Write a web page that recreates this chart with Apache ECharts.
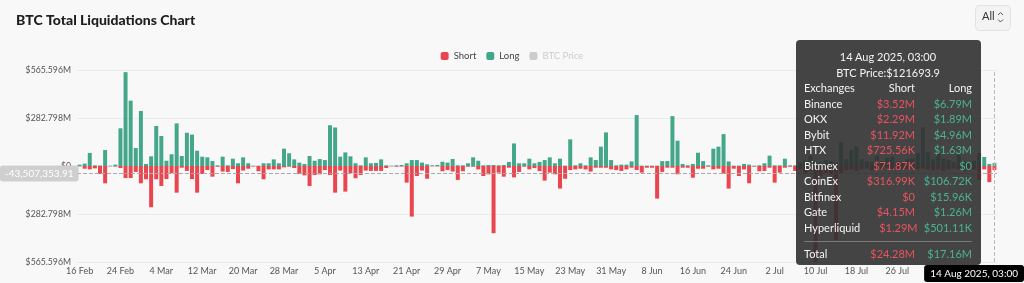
<!DOCTYPE html>
<html><head><meta charset="utf-8">
<script src="https://cdn.jsdelivr.net/npm/echarts@6/dist/echarts.min.js"></script>
<style>html,body{margin:0;padding:0;background:#f8f8f8}#chart{width:1024px;height:283px}</style>
</head><body><div id="chart"></div>
<script>
// ---- data ----
const startDay = [2025, 1, 16];   // 16 Feb 2025 (UTC, month 0-based)
const dayCount = 180;             // 16 Feb .. 14 Aug 2025
const categories = [];
for (let i = 0; i < dayCount; i++) {
  categories.push(new Date(Date.UTC(startDay[0], startDay[1], startDay[2] + i)).toISOString().slice(0, 10));
}
const monthNames = ['Jan','Feb','Mar','Apr','May','Jun','Jul','Aug','Sep','Oct','Nov','Dec'];

// liquidations in millions USD
const longM = [
8,14,77,4,3,94,2,8,222,553,
385,106,324,12,57,236,177,31,69,251,
59,196,185,90,55,51,29,4,55,4,
43,16,51,16,2,2,16,16,39,16,
102,75,39,20,12,59,31,41,35,240,
227,55,80,57,16,4,51,16,18,39,
4,2,4,6,16,35,35,20,10,4,
6,25,20,41,4,4,16,51,31,4,
6,6,4,6,24,133,16,16,43,16,
24,35,51,16,43,2,157,4,16,4,
51,35,114,198,35,4,8,8,27,300,
2,2,2,2,29,29,294,149,12,4,
12,78,29,4,102,114,188,27,2,2,
12,8,2,4,16,61,4,4,43,4,
4,20,30,60,25,20,35,30,20,140,
40,94,115,40,30,25,59,30,47,55,
30,25,40,45,77,228,82,40,77,45,
35,25,65,30,20,30,77,53,12,17.16
];
const shortM = [
2,16,20,14,47,102,2,3,12,71,
71,35,102,78,243,78,118,77,43,157,
10,29,77,157,47,24,63,4,33,35,
18,102,27,16,3,31,78,20,20,20,
8,4,12,47,55,118,53,49,24,53,
157,27,151,43,72,53,27,29,29,29,
12,2,4,3,98,298,59,27,75,2,
2,31,24,33,82,31,4,4,20,59,
49,396,39,63,10,67,35,4,20,12,
30,86,39,49,133,75,24,20,16,20,
33,10,10,10,20,24,29,20,10,24,
39,10,10,192,35,10,10,49,10,10,
69,16,16,4,20,16,45,133,16,59,
20,102,4,31,29,10,98,39,10,4,
29,20,45,30,565.596,60,43,50,436,40,
25,20,30,20,15,25,15,20,10,20,
15,20,20,15,20,15,20,25,20,30,
20,15,20,35,25,20,82,20,95,24.28
];
const btcPrice = [];   // series hidden in the reference (legend item switched off)

const yMaxM = 565.596;
const yStepM = 282.798;

// hovered point (tooltip)
const hoverIndex = 179;
const hoverTime = '03:00';
const hoverBtcPrice = 121693.9;
const pointerValueM = -43.50735391;
const hoverExchanges = ['Binance','OKX','Bybit','HTX','Bitmex','CoinEx','Bitfinex','Gate','Hyperliquid'];
const hoverShortUsd = [3520000, 2290000, 11920000, 725560, 71870, 316990, 0, 4150000, 1290000];
const hoverLongUsd  = [6790000, 1890000, 4960000, 1630000, 0, 106720, 15960, 1260000, 501110];

// ---- helpers ----
const FONT = 'Lato, "Open Sans", sans-serif';
const RED = '#e9464f', GREEN = '#45a78a';
const TT_RED = '#e9545f', TT_GREEN = '#4bb394';
function shortDate(s) { const p = s.split('-'); return (+p[2]) + ' ' + monthNames[+p[1] - 1]; }
function longDate(s) { const p = s.split('-'); return (+p[2]) + ' ' + monthNames[+p[1] - 1] + ' ' + p[0] + ', ' + hoverTime; }
function fmtUsd(v) {
  if (v === 0) return '$0';
  if (v >= 1e6) return '$' + (v / 1e6).toFixed(2) + 'M';
  if (v >= 1e3) return '$' + (v / 1e3).toFixed(2) + 'K';
  return '$' + v.toFixed(2);
}
function row(name, s, l, sc, lc) {
  return '<div style="display:flex;height:15.5px;line-height:15.5px">' +
    '<span style="flex:1">' + name + '</span>' +
    '<span style="width:60px;text-align:right;color:' + sc + '">' + s + '</span>' +
    '<span style="width:57px;text-align:right;color:' + lc + '">' + l + '</span></div>';
}

const chart = echarts.init(document.getElementById('chart'), null, { renderer: 'canvas' });
const option = {
  backgroundColor: '#f8f8f8',
  animation: false,
  textStyle: { fontFamily: FONT },
  title: {
    text: 'BTC Total Liquidations Chart', left: 11, top: 8,
    textStyle: { fontFamily: FONT, fontWeight: 900, fontSize: 14, color: '#1e1e1e' }
  },
  legend: {
    top: 46, left: 'center', itemWidth: 8, itemHeight: 8, itemGap: 10, icon: 'roundRect',
    textStyle: { fontSize: 9.5, color: '#444', fontFamily: FONT },
    inactiveColor: '#cccccc',
    data: ['Short', 'Long', 'BTC Price'],
    selected: { 'BTC Price': false }
  },
  grid: { left: 77, right: 27, top: 70, bottom: 21 },
  tooltip: {
    trigger: 'axis',
    alwaysShowContent: true,
    transitionDuration: 0,
    axisPointer: { type: 'cross', crossStyle: { color: '#aaa', width: 1, type: 'dashed' } },
    backgroundColor: 'rgba(48,48,48,0.9)',
    borderWidth: 0,
    padding: [9, 9, 3, 8],
    extraCssText: 'box-shadow:none;border-radius:4px;',
    position: function () { return [796, 40]; },
    formatter: function (params) {
      const idx = params[0].dataIndex;
      let h = '<div style="width:168px;font-family:' + FONT.replace(/"/g, "'") + ';font-size:11px;color:#f4f4f4;">';
      h += '<div style="text-align:center;line-height:15.5px">' + longDate(categories[idx]) + '</div>';
      h += '<div style="text-align:center;line-height:15.5px">BTC Price:$' + hoverBtcPrice + '</div>';
      h += row('Exchanges', 'Short', 'Long', '#f4f4f4', '#f4f4f4');
      for (let i = 0; i < hoverExchanges.length; i++) {
        h += row(hoverExchanges[i], fmtUsd(hoverShortUsd[i]), fmtUsd(hoverLongUsd[i]), TT_RED, TT_GREEN);
      }
      h += '<div style="border-top:1px solid #7a7a7a;margin:6px 0 4px 0"></div>';
      h += row('Total', fmtUsd(shortM[idx] * 1e6), fmtUsd(longM[idx] * 1e6), TT_RED, TT_GREEN);
      h += '</div>';
      return h;
    }
  },
  xAxis: {
    type: 'category',
    data: categories,
    boundaryGap: true,
    axisLine: { show: false },
    axisTick: { show: false },
    axisLabel: { interval: 7, fontSize: 9, color: '#555', margin: 5, formatter: shortDate },
    axisPointer: {
      label: {
        backgroundColor: '#000', color: '#fff', fontSize: 10, padding: [4, 6, 3, 6],
        formatter: function (p) { return longDate(p.value); }
      }
    }
  },
  yAxis: {
    type: 'value',
    min: -yMaxM, max: yMaxM, interval: yStepM,
    axisLine: { show: false },
    axisTick: { show: false },
    splitLine: { lineStyle: { color: '#ebebeb' } },
    axisLabel: {
      fontSize: 8.7, color: '#555', margin: 6,
      formatter: function (v) { return v === 0 ? '$0' : '$' + Math.abs(v).toFixed(3) + 'M'; }
    },
    axisPointer: {
      label: {
        backgroundColor: '#cfcfcf', color: '#fff', fontSize: 10, padding: [3, 5],
        formatter: function (p) {
          return (p.value * 1e6).toLocaleString('en-US', { minimumFractionDigits: 2, maximumFractionDigits: 2 });
        }
      }
    }
  },
  series: [
    { name: 'Short', type: 'bar', stack: 'liq', barWidth: '78%', itemStyle: { color: RED },
      data: shortM.map(function (v) { return -v; }) },
    { name: 'Long', type: 'bar', stack: 'liq', barWidth: '78%', itemStyle: { color: GREEN },
      data: longM },
    { name: 'BTC Price', type: 'line', showSymbol: false, itemStyle: { color: '#cccccc' }, data: btcPrice }
  ],
  graphic: [
    { type: 'rect', left: 975, top: 5, shape: { width: 35, height: 25, r: 4 },
      style: { fill: '#f3f3f3', stroke: '#e2e2e2', lineWidth: 1 } },
    { type: 'text', left: 982, top: 11, style: { text: 'All', fontSize: 11, fill: '#333', fontFamily: FONT } },
    { type: 'polyline', shape: { points: [[998, 15], [1000.5, 12.5], [1003, 15]] }, style: { stroke: '#555', lineWidth: 1, fill: null } },
    { type: 'polyline', shape: { points: [[998, 19.5], [1000.5, 22], [1003, 19.5]] }, style: { stroke: '#555', lineWidth: 1, fill: null } }
  ]
};
chart.setOption(option);
const px = chart.convertToPixel({ xAxisIndex: 0 }, categories[hoverIndex]);
const py = chart.convertToPixel({ yAxisIndex: 0 }, pointerValueM);
chart.dispatchAction({ type: 'showTip', x: px, y: py });
</script></body></html>
